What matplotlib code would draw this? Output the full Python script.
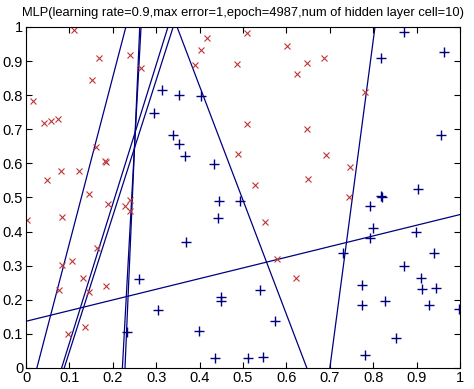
#!/usr/bin/env python3
import matplotlib
matplotlib.use('agg')
import matplotlib.pyplot as plt

# class 1 samples (red x)
redX = [0.111, 0.168, 0.240, 0.264, 0.153, 0.015, 0.042, 0.058, 0.074, 0.162,
        0.182, 0.184, 0.081, 0.123, 0.049, 0.144, 0.240, 0.189, 0.229, 0.240,
        0.003, 0.083, 0.164, 0.084, 0.107, 0.132, 0.077, 0.184, 0.146, 0.137,
        0.096, 0.418, 0.508, 0.602, 0.648, 0.402, 0.389, 0.487, 0.625, 0.510,
        0.648, 0.489, 0.528, 0.650, 0.687, 0.780, 0.690, 0.747, 0.745, 0.550,
        0.579, 0.621]
redY = [0.991, 0.908, 0.917, 0.879, 0.846, 0.782, 0.718, 0.724, 0.731, 0.647,
        0.607, 0.604, 0.579, 0.579, 0.550, 0.510, 0.493, 0.482, 0.475, 0.459,
        0.433, 0.442, 0.351, 0.303, 0.313, 0.263, 0.229, 0.240, 0.222, 0.120,
        0.099, 0.968, 0.981, 0.943, 0.893, 0.932, 0.889, 0.891, 0.862, 0.715,
        0.700, 0.628, 0.537, 0.553, 0.908, 0.809, 0.624, 0.588, 0.500, 0.427,
        0.321, 0.263]

# class 2 samples (blue +)
blueX = [0.313, 0.352, 0.404, 0.296, 0.338, 0.353, 0.367, 0.432, 0.445, 0.492,
         0.443, 0.369, 0.538, 0.449, 0.449, 0.305, 0.574, 0.399, 0.436, 0.512,
         0.547, 0.260, 0.233, 0.871, 0.962, 0.817, 0.955, 0.902, 0.817, 0.821,
         0.793, 0.800, 0.793, 0.899, 0.731, 0.941, 0.870, 0.911, 0.774, 0.913,
         0.945, 0.826, 0.774, 0.929, 0.997, 0.853, 0.780]
blueY = [0.815, 0.802, 0.799, 0.747, 0.682, 0.656, 0.622, 0.597, 0.491, 0.491,
         0.439, 0.369, 0.229, 0.209, 0.196, 0.170, 0.137, 0.109, 0.028, 0.028,
         0.032, 0.260, 0.107, 0.984, 0.926, 0.908, 0.682, 0.524, 0.504, 0.501,
         0.475, 0.410, 0.381, 0.399, 0.336, 0.336, 0.298, 0.263, 0.243, 0.232,
         0.235, 0.196, 0.186, 0.184, 0.174, 0.087, 0.038]

# hidden layer decision lines, each through (x0, y0) and (x1, y1)
lineX0 = [0.000, 0.025, 0.222, 0.228, 0.082, 0.088, 0.647, 0.700]
lineY0 = [0.137, 0.000, 0.000, 0.000, 0.000, 0.000, 0.000, 0.000]
lineX1 = [1.000, 0.230, 0.265, 0.262, 0.327, 0.339, 0.348, 0.804]
lineY1 = [0.450, 1.000, 1.000, 1.000, 1.000, 1.000, 1.000, 1.000]

xTicks = [0, 0.1, 0.2, 0.3, 0.4, 0.5, 0.6, 0.7, 0.8, 0.9, 1]
yTicks = [0, 0.1, 0.2, 0.3, 0.4, 0.5, 0.6, 0.7, 0.8, 0.9, 1]
tickLabels = ['0', '0.1', '0.2', '0.3', '0.4', '0.5', '0.6', '0.7', '0.8', '0.9', '1']

title = 'MLP(learning rate=0.9,max error=1,epoch=4987,num of hidden layer cell=10)'


def plotMLP():
    plt.rcParams['font.family'] = ['Liberation Sans', 'DejaVu Sans']
    fig = plt.figure(figsize=(4.74, 3.89), dpi=100)
    ax = fig.add_axes([0.0549, 0.054, 0.9157, 0.8766])
    lineColor = '#000080'
    for i in range(len(lineX0)):
        ax.plot([lineX0[i], lineX1[i]], [lineY0[i], lineY1[i]],
                color=lineColor, linewidth=0.9)
    ax.plot(redX, redY, linestyle='none', marker='x', color='#c03535',
            markersize=4, markeredgewidth=0.8)
    ax.plot(blueX, blueY, linestyle='none', marker='+', color='#000080',
            markersize=7.5, markeredgewidth=1.0)

    ax.set_xlim(0, 1)
    ax.set_ylim(0, 1)
    ax.set_xticks(xTicks)
    ax.set_xticklabels(tickLabels)
    ax.set_yticks(yTicks)
    ax.set_yticklabels(tickLabels)
    ax.tick_params(direction='in', length=4, width=0.8, top=True, right=True,
                   labelsize=10.5, pad=2)
    for spine in ax.spines.values():
        spine.set_linewidth(0.8)
    ax.set_title(title, fontsize=9.25, pad=8)
    fig.savefig('out.png', dpi=100)


if __name__ == "__main__":
    plotMLP()
